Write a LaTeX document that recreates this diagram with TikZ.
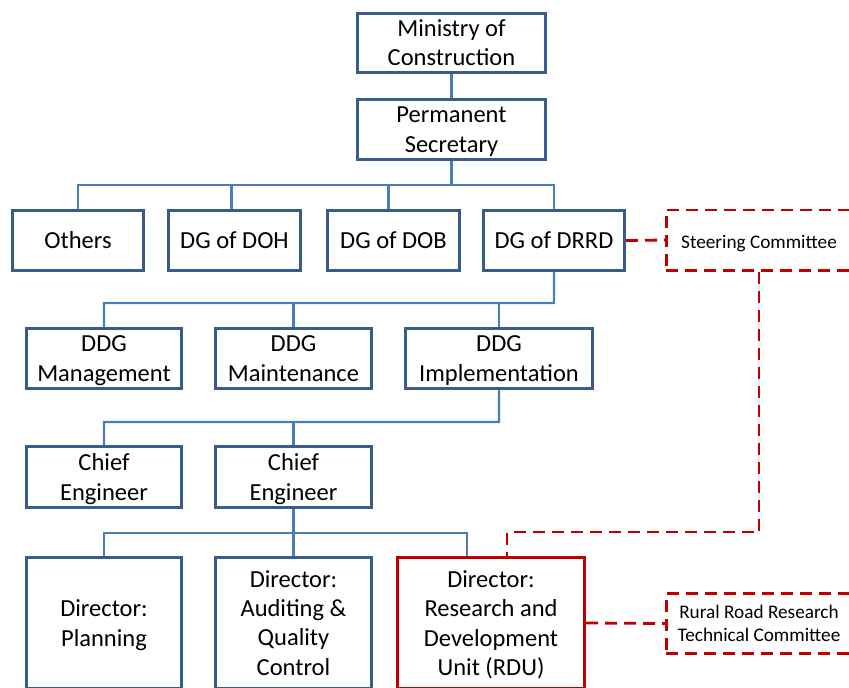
\documentclass[tikz,border=0pt]{standalone}
\usepackage{fontspec}
\setmainfont{Carlito}
\usetikzlibrary{positioning}

\definecolor{boxblue}{RGB}{56,93,138}
\definecolor{linkblue}{RGB}{74,126,187}
\definecolor{rduRed}{RGB}{192,0,0}

% last line without its descender, so all boxes centre their text alike
\newcommand{\nodep}[1]{\raisebox{0pt}[\height][0pt]{#1}}

\begin{document}
\begin{tikzpicture}[x=1pt,y=-1pt,semithick,
  font=\fontsize{24.5}{29.3}\selectfont]
  \tikzstyle{box}=[draw=boxblue,line width=2.8pt,fill=white,align=center,
    inner sep=2pt,minimum height=60.2pt,
    execute at begin node={\rule{0pt}{17pt}}]
  \tikzstyle{redbox}=[box,draw=rduRed]
  \tikzstyle{cttee}=[redbox,dash pattern=on 12pt off 7pt,minimum width=185.2pt,
    minimum height=60.2pt,font=\fontsize{19.25}{22.8}\selectfont,
    execute at begin node={\rule{0pt}{12.5pt}}]
  \tikzstyle{conn}=[draw=linkblue,line width=2.4pt]
  \tikzstyle{redlink}=[draw=rduRed,line width=2.8pt,dash pattern=on 12pt off 7pt]

  \useasboundingbox (0,0) rectangle (849,688);
  \clip (0,0) rectangle (849,688);

  \node[box,minimum width=188.2pt,minimum height=59.2pt] (moc) at (451.5,43) {Ministry of\\Construction};
  \node[box,minimum width=188.2pt] (ps) [below=24pt of moc] {Permanent\\\nodep{Secretary}};

  \node[box,minimum width=131.2pt] (oth)  at (78,240.5) {Others};
  \node[box,minimum width=132.2pt] (doh)  [right=22pt of oth] {DG of DOH};
  \node[box,minimum width=132.2pt] (dob)  [right=24pt of doh] {DG of DOB};
  \node[box,minimum width=141.2pt] (drrd) [right=21pt of dob] {DG of DRRD};

  \node[box,minimum width=155.2pt] (mgmt)  at (104,358.5) {DDG\\\nodep{Management}};
  \node[box,minimum width=156.2pt] (maint) [right=31pt of mgmt] {DDG\\Maintenance};
  \node[box,minimum width=187.2pt] (impl)  [right=31pt of maint] {DDG\\\nodep{Implementation}};

  \node[box,minimum width=155.2pt,minimum height=61.2pt] (ce1) at (104,477) {Chief\\\nodep{Engineer}};
  \node[box,minimum width=156.2pt,minimum height=61.2pt] (ce2) [right=31pt of ce1] {Chief\\\nodep{Engineer}};

  \node[box,minimum width=155.2pt,minimum height=131.2pt] (plan)  at (104,623) {Director:\\\nodep{Planning}};
  \node[box,minimum width=156.2pt,minimum height=131.2pt] (audit) [right=31pt of plan] {Director:\\Auditing \&\\Quality\\Control};
  \node[redbox,minimum width=187.2pt,minimum height=131.2pt] (rdu) [right=23pt of audit] {Director:\\Research and\\Development\\\nodep{Unit (RDU)}};

  \node[cttee] (sc)   at (759,240) {\nodep{Steering Committee}};
  \node[cttee] (rrtc) at (759,623.5) {Rural Road Research\\Technical Committee};

  % bus levels
  \coordinate (busa) at (451.5,185);
  \coordinate (busb) at (554,303);
  \coordinate (busc) at (499,422);
  \coordinate (busd) at (467,533);
  \coordinate (tap)  at (507,532);

  \draw[conn] (moc) -- (ps);
  \draw[conn] (ps.south) -- (busa);
  \draw[conn] (oth.north) |- (busa) -| (drrd.north);
  \draw[conn] ([xshift=-3pt]doh.north) -- ([xshift=-3pt]doh.north |- busa);
  \draw[conn] ([xshift=-5pt]dob.north) -- ([xshift=-5pt]dob.north |- busa);

  \draw[conn] (drrd.south) -- (busb) -| (mgmt.north);
  \draw[conn] (maint.north) -- (maint.north |- busb);
  \draw[conn] (impl.north) -- (impl.north |- busb);

  \draw[conn] (impl.south) -- (busc) -| (ce1.north);
  \draw[conn] (ce2.north) -- (ce2.north |- busc);

  \draw[conn] (ce2.south) -- (ce2.south |- busd);
  \draw[conn] (plan.north) |- (busd) -- (busd |- rdu.north);
  \draw[conn] (audit.north) -- (audit.north |- busd);

  \draw[redlink] (drrd.east) -- (sc.west);
  \draw[redlink] (sc.south) |- (tap) -- (tap |- rdu.north);
  \draw[redlink] (rdu.east) -- (rrtc.west);
\end{tikzpicture}
\end{document}
